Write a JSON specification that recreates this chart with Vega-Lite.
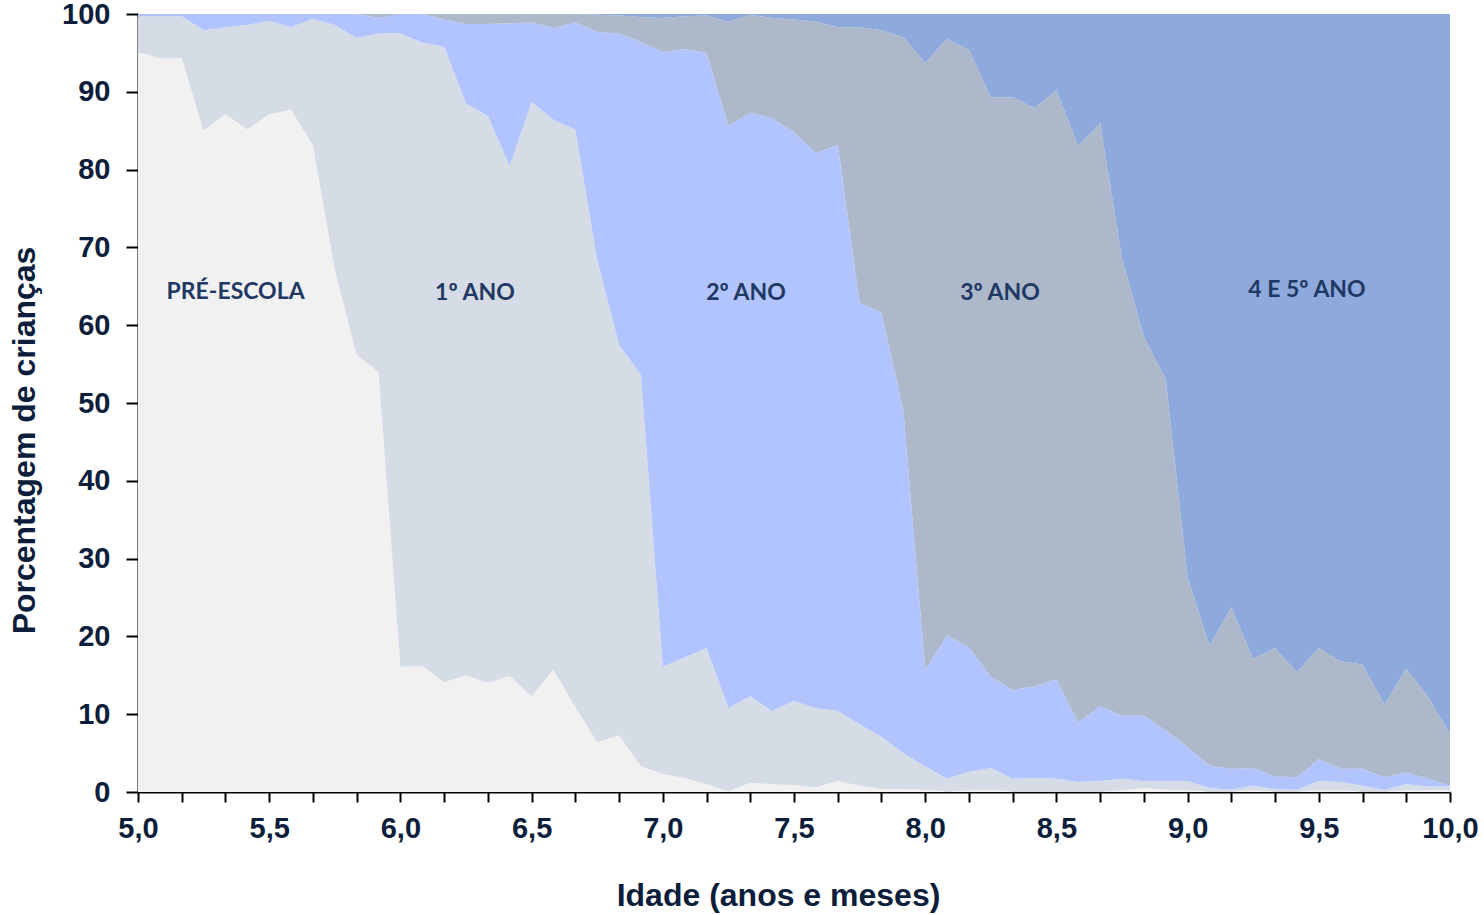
{
  "$schema": "https://vega.github.io/schema/vega-lite/v6.json",
  "width": 1312,
  "height": 778,
  "autosize": {"type": "none"},
  "padding": {"left": 138, "top": 14, "right": 34, "bottom": 123},
  "background": "white",
  "config": {"view": {"stroke": null}, "font": "Liberation Sans"},
  "datasets": {
    "grades": [
      {"idade": 5, "s1": 95.1, "s2": 4.6, "s3": 0.3, "s4": 0, "s5": 0},
      {"idade": 5.0833, "s1": 94.3, "s2": 5.4, "s3": 0.3, "s4": 0, "s5": 0},
      {"idade": 5.1667, "s1": 94.3, "s2": 5.4, "s3": 0.3, "s4": 0, "s5": 0},
      {"idade": 5.25, "s1": 85.0, "s2": 12.9, "s3": 2.1, "s4": 0, "s5": 0},
      {"idade": 5.3333, "s1": 87.1, "s2": 11.2, "s3": 1.7, "s4": 0, "s5": 0},
      {"idade": 5.4167, "s1": 85.2, "s2": 13.4, "s3": 1.4, "s4": 0, "s5": 0},
      {"idade": 5.5, "s1": 87.1, "s2": 12.0, "s3": 0.9, "s4": 0, "s5": 0},
      {"idade": 5.5833, "s1": 87.7, "s2": 10.6, "s3": 1.7, "s4": 0, "s5": 0},
      {"idade": 5.6667, "s1": 83.1, "s2": 16.3, "s3": 0.6, "s4": 0, "s5": 0},
      {"idade": 5.75, "s1": 67.1, "s2": 31.5, "s3": 1.4, "s4": 0, "s5": 0},
      {"idade": 5.8333, "s1": 56.2, "s2": 40.7, "s3": 3.1, "s4": 0, "s5": 0},
      {"idade": 5.9167, "s1": 54.0, "s2": 43.5, "s3": 2.0, "s4": 0.5, "s5": 0},
      {"idade": 6, "s1": 16.1, "s2": 81.4, "s3": 2.5, "s4": 0, "s5": 0},
      {"idade": 6.0833, "s1": 16.2, "s2": 80.1, "s3": 3.7, "s4": 0, "s5": 0},
      {"idade": 6.1667, "s1": 14.1, "s2": 81.7, "s3": 3.5, "s4": 0.7, "s5": 0},
      {"idade": 6.25, "s1": 15.0, "s2": 73.5, "s3": 10.2, "s4": 1.3, "s5": 0},
      {"idade": 6.3333, "s1": 14.0, "s2": 72.9, "s3": 11.8, "s4": 1.3, "s5": 0},
      {"idade": 6.4167, "s1": 14.9, "s2": 65.6, "s3": 18.3, "s4": 1.2, "s5": 0},
      {"idade": 6.5, "s1": 12.3, "s2": 76.4, "s3": 10.2, "s4": 1.1, "s5": 0},
      {"idade": 6.5833, "s1": 15.7, "s2": 70.7, "s3": 11.8, "s4": 1.8, "s5": 0},
      {"idade": 6.6667, "s1": 10.9, "s2": 74.2, "s3": 13.8, "s4": 1.1, "s5": 0},
      {"idade": 6.75, "s1": 6.4, "s2": 62.0, "s3": 29.3, "s4": 2.2, "s5": 0.1},
      {"idade": 6.8333, "s1": 7.3, "s2": 50.2, "s3": 40.0, "s4": 2.3, "s5": 0.2},
      {"idade": 6.9167, "s1": 3.3, "s2": 50.3, "s3": 42.8, "s4": 3.2, "s5": 0.4},
      {"idade": 7, "s1": 2.3, "s2": 13.8, "s3": 79.0, "s4": 4.4, "s5": 0.5},
      {"idade": 7.0833, "s1": 1.8, "s2": 15.5, "s3": 78.2, "s4": 4.2, "s5": 0.3},
      {"idade": 7.1667, "s1": 1.0, "s2": 17.5, "s3": 76.5, "s4": 4.8, "s5": 0.2},
      {"idade": 7.25, "s1": 0.1, "s2": 10.7, "s3": 74.8, "s4": 13.4, "s5": 1.0},
      {"idade": 7.3333, "s1": 1.2, "s2": 11.1, "s3": 75.0, "s4": 12.6, "s5": 0.1},
      {"idade": 7.4167, "s1": 1.0, "s2": 9.4, "s3": 76.2, "s4": 12.9, "s5": 0.5},
      {"idade": 7.5, "s1": 0.9, "s2": 10.8, "s3": 73.1, "s4": 14.5, "s5": 0.7},
      {"idade": 7.5833, "s1": 0.6, "s2": 10.2, "s3": 71.3, "s4": 16.9, "s5": 1.0},
      {"idade": 7.6667, "s1": 1.4, "s2": 9.0, "s3": 72.8, "s4": 15.1, "s5": 1.7},
      {"idade": 7.75, "s1": 0.8, "s2": 7.9, "s3": 54.2, "s4": 35.4, "s5": 1.7},
      {"idade": 7.8333, "s1": 0.4, "s2": 6.7, "s3": 54.5, "s4": 36.3, "s5": 2.1},
      {"idade": 7.9167, "s1": 0.4, "s2": 4.6, "s3": 44.1, "s4": 47.9, "s5": 3.0},
      {"idade": 8, "s1": 0.3, "s2": 3.0, "s3": 12.4, "s4": 78.0, "s5": 6.3},
      {"idade": 8.0833, "s1": 0.1, "s2": 1.6, "s3": 18.4, "s4": 76.7, "s5": 3.2},
      {"idade": 8.1667, "s1": 0.2, "s2": 2.4, "s3": 16.0, "s4": 76.8, "s5": 4.6},
      {"idade": 8.25, "s1": 0.3, "s2": 2.8, "s3": 11.7, "s4": 74.5, "s5": 10.7},
      {"idade": 8.3333, "s1": 0.1, "s2": 1.6, "s3": 11.4, "s4": 76.2, "s5": 10.7},
      {"idade": 8.4167, "s1": 0.1, "s2": 1.7, "s3": 11.8, "s4": 74.3, "s5": 12.1},
      {"idade": 8.5, "s1": 0.1, "s2": 1.6, "s3": 12.8, "s4": 75.7, "s5": 9.8},
      {"idade": 8.5833, "s1": 0.1, "s2": 1.2, "s3": 7.6, "s4": 74.1, "s5": 17.0},
      {"idade": 8.6667, "s1": 0.1, "s2": 1.3, "s3": 9.7, "s4": 74.9, "s5": 14.0},
      {"idade": 8.75, "s1": 0.2, "s2": 1.5, "s3": 8.1, "s4": 58.8, "s5": 31.4},
      {"idade": 8.8333, "s1": 0.5, "s2": 0.9, "s3": 8.4, "s4": 48.7, "s5": 41.5},
      {"idade": 8.9167, "s1": 0.3, "s2": 1.1, "s3": 6.5, "s4": 45.1, "s5": 47.0},
      {"idade": 9, "s1": 0.2, "s2": 1.2, "s3": 4.4, "s4": 21.8, "s5": 72.4},
      {"idade": 9.0833, "s1": 0.1, "s2": 0.4, "s3": 2.9, "s4": 15.4, "s5": 81.2},
      {"idade": 9.1667, "s1": 0.1, "s2": 0.2, "s3": 2.7, "s4": 20.7, "s5": 76.3},
      {"idade": 9.25, "s1": 0.2, "s2": 0.6, "s3": 2.3, "s4": 14.0, "s5": 82.9},
      {"idade": 9.3333, "s1": 0.1, "s2": 0.3, "s3": 1.6, "s4": 16.5, "s5": 81.5},
      {"idade": 9.4167, "s1": 0.1, "s2": 0.2, "s3": 1.6, "s4": 13.5, "s5": 84.6},
      {"idade": 9.5, "s1": 0.2, "s2": 1.2, "s3": 2.8, "s4": 14.3, "s5": 81.5},
      {"idade": 9.5833, "s1": 0.2, "s2": 1.1, "s3": 1.7, "s4": 13.8, "s5": 83.2},
      {"idade": 9.6667, "s1": 0.1, "s2": 0.7, "s3": 2.2, "s4": 13.4, "s5": 83.6},
      {"idade": 9.75, "s1": 0.1, "s2": 0.2, "s3": 1.6, "s4": 9.3, "s5": 88.8},
      {"idade": 9.8333, "s1": 0.2, "s2": 0.8, "s3": 1.5, "s4": 13.3, "s5": 84.2},
      {"idade": 9.9167, "s1": 0.2, "s2": 0.5, "s3": 1.0, "s4": 10.5, "s5": 87.8},
      {"idade": 10, "s1": 0.2, "s2": 0.5, "s3": 0.1, "s4": 6.7, "s5": 92.5}
    ],
    "labels": [
      {"idade": 5.372, "pct": 64.3, "rotulo": "PRÉ-ESCOLA"},
      {"idade": 6.284, "pct": 64.1, "rotulo": "1º ANO"},
      {"idade": 7.317, "pct": 64.1, "rotulo": "2º ANO"},
      {"idade": 8.285, "pct": 64.1, "rotulo": "3º ANO"},
      {"idade": 9.455, "pct": 64.5, "rotulo": "4 E 5º ANO"}
    ]
  },
  "layer": [
    {
      "data": {"name": "grades"},
      "transform": [{"fold": ["s1", "s2", "s3", "s4", "s5"], "as": ["serie", "pct"]}],
      "mark": {"type": "area", "interpolate": "linear"},
      "encoding": {
        "x": {
          "field": "idade",
          "type": "quantitative",
          "title": "Idade (anos e meses)",
          "scale": {"domain": [5, 10], "nice": false, "zero": false},
          "axis": {
            "title": "Idade (anos e meses)",
            "values": [5, 5.0833, 5.1667, 5.25, 5.3333, 5.4167, 5.5, 5.5833, 5.6667, 5.75, 5.8333, 5.9167, 6, 6.0833, 6.1667, 6.25, 6.3333, 6.4167, 6.5, 6.5833, 6.6667, 6.75, 6.8333, 6.9167, 7, 7.0833, 7.1667, 7.25, 7.3333, 7.4167, 7.5, 7.5833, 7.6667, 7.75, 7.8333, 7.9167, 8, 8.0833, 8.1667, 8.25, 8.3333, 8.4167, 8.5, 8.5833, 8.6667, 8.75, 8.8333, 8.9167, 9, 9.0833, 9.1667, 9.25, 9.3333, 9.4167, 9.5, 9.5833, 9.6667, 9.75, 9.8333, 9.9167, 10],
            "labelExpr": "abs(datum.value*2 - round(datum.value*2)) < 0.01 ? replace(format(datum.value, '.1f'), '.', ',') : ''",
            "labelOverlap": false,
            "labelFlush": false,
            "grid": false,
            "domainColor": "#000000",
            "domainWidth": 2,
            "tickColor": "#000000",
            "tickWidth": 2,
            "tickSize": 10,
            "labelFont": "Liberation Sans",
            "labelFontSize": 29,
            "labelFontWeight": "bold",
            "labelColor": "#0C1E3B",
            "labelPadding": 12,
            "titleFont": "Liberation Sans",
            "titleFontSize": 32,
            "titleFontWeight": "bold",
            "titleColor": "#0C1E3B",
            "titlePadding": 37,
            "titleX": 640
          }
        },
        "y": {
          "field": "pct",
          "type": "quantitative",
          "title": "Porcentagem de crianças",
          "stack": "zero",
          "scale": {"domain": [0, 100], "nice": false},
          "axis": {
            "title": "Porcentagem de crianças",
            "values": [0, 10, 20, 30, 40, 50, 60, 70, 80, 90, 100],
            "format": "d",
            "grid": false,
            "domainColor": "#000000",
            "domainWidth": 2,
            "tickColor": "#000000",
            "tickWidth": 2,
            "tickSize": 12,
            "labelFont": "Liberation Sans",
            "labelFontSize": 29,
            "labelFontWeight": "bold",
            "labelColor": "#0C1E3B",
            "labelPadding": 16,
            "titleFont": "Liberation Sans",
            "titleFontSize": 32,
            "titleFontWeight": "bold",
            "titleColor": "#0C1E3B",
            "titlePadding": 20,
            "titleY": 426
          }
        },
        "color": {
          "field": "serie",
          "type": "nominal",
          "scale": {"domain": ["s1", "s2", "s3", "s4", "s5"], "range": ["#F1F1F1", "#D5DCE6", "#B1C4FD", "#ADB8CA", "#8EAADC"]},
          "legend": null
        },
        "order": {"field": "serie", "sort": "ascending"}
      }
    },
    {
      "data": {"name": "labels"},
      "mark": {"type": "text", "font": "Lato", "fontWeight": "bold", "fontSize": 23, "color": "#1F3864", "align": "center", "baseline": "middle"},
      "encoding": {
        "x": {"field": "idade", "type": "quantitative", "title": "Idade (anos e meses)"},
        "y": {"field": "pct", "type": "quantitative", "title": "Porcentagem de crianças"},
        "text": {"field": "rotulo"}
      }
    }
  ]
}
